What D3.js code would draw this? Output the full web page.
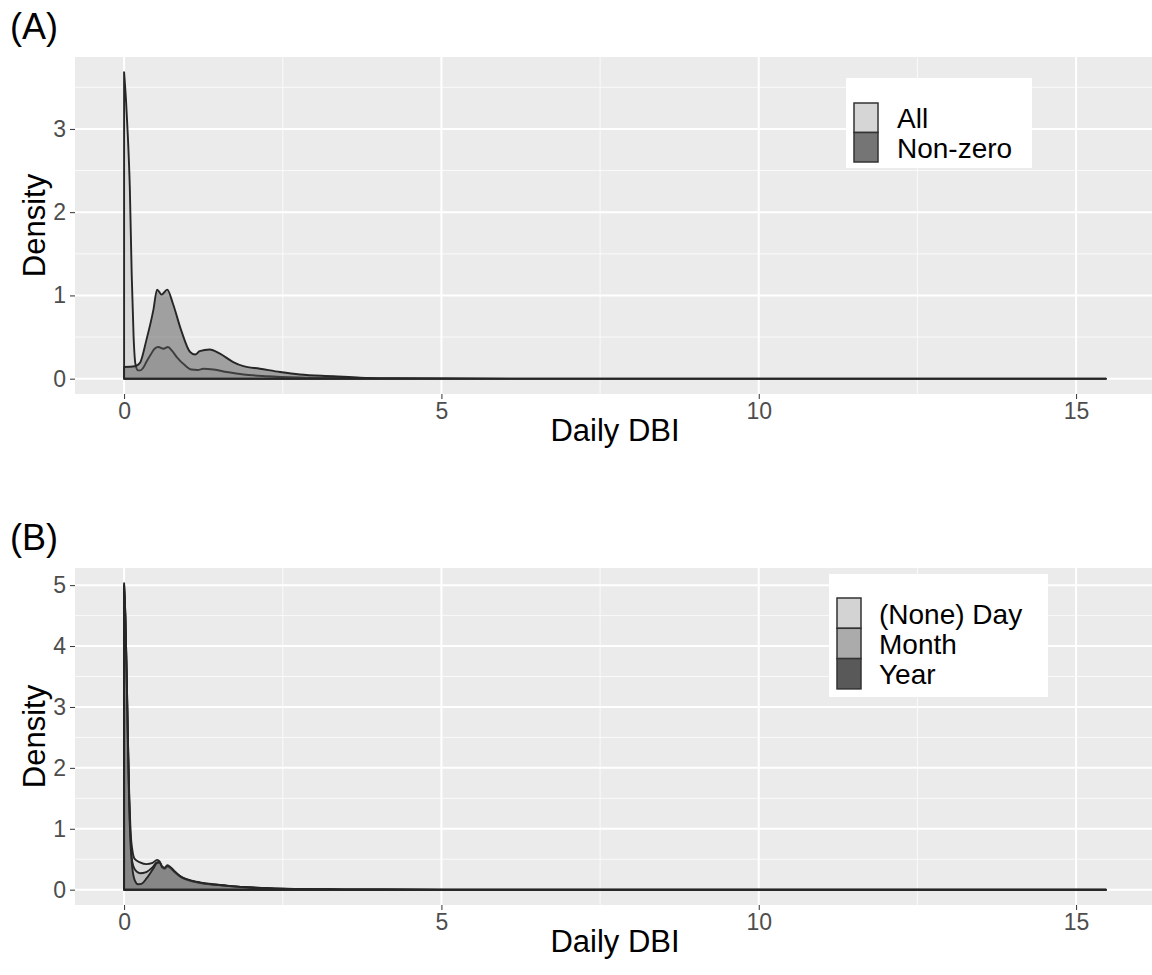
<!DOCTYPE html>
<html>
<head>
<meta charset="utf-8">
<script src="https://d3js.org/d3.v7.min.js"></script>
<style>
  body { margin: 0; background: #fff; }
  svg { font-family: "Liberation Sans", Arial, sans-serif; }
</style>
</head>
<body>
<div id="chart"></div>
<script>
// panel A: all days vs non-zero days
const allX = [0, 0.03, 0.06, 0.09, 0.12, 0.15, 0.18, 0.22, 0.26, 0.3, 0.35, 0.42, 0.48, 0.54, 0.62, 0.69, 0.76, 0.83, 0.96, 1.06, 1.16, 1.25, 1.41, 1.62, 1.88, 2.25, 2.77, 3.3, 4, 5, 7, 10, 15.47];
const allY = [3.68, 3.35, 2.9, 2.3, 1.25, 0.5, 0.17, 0.1, 0.1, 0.13, 0.2, 0.29, 0.36, 0.38, 0.36, 0.38, 0.33, 0.26, 0.16, 0.11, 0.105, 0.12, 0.11, 0.08, 0.05, 0.03, 0.015, 0.008, 0.004, 0.0015, 0.0005, 0.0002, 0];
const nonzeroX = [0, 0.17, 0.25, 0.35, 0.46, 0.52, 0.59, 0.68, 0.77, 0.9, 1.04, 1.12, 1.19, 1.35, 1.51, 1.72, 1.88, 2.14, 2.46, 2.77, 3.3, 3.72, 4.3, 5, 7, 10, 15.47];
const nonzeroY = [0.14, 0.15, 0.19, 0.46, 0.82, 1.07, 1.01, 1.07, 0.9, 0.58, 0.32, 0.29, 0.33, 0.35, 0.3, 0.2, 0.15, 0.12, 0.08, 0.05, 0.03, 0.012, 0.005, 0.002, 0.0005, 0.0002, 0];

// panel B: by recall period
const dayX = [0, 0.02, 0.04, 0.06, 0.08, 0.1, 0.13, 0.17, 0.25, 0.35, 0.45, 0.52, 0.56, 0.6, 0.64, 0.68, 0.72, 0.8, 0.9, 1.0, 1.2, 1.44, 1.7, 2.0, 2.3, 2.7, 3.2, 4, 5, 7, 10, 15.47];
const dayY = [5.03, 4.5, 3.6, 2.5, 1.6, 1.0, 0.65, 0.5, 0.45, 0.42, 0.44, 0.49, 0.46, 0.36, 0.34, 0.38, 0.36, 0.28, 0.2, 0.16, 0.11, 0.08, 0.055, 0.035, 0.022, 0.012, 0.006, 0.003, 0.001, 0.0004, 0.0001, 0];
const monthX = [0, 0.02, 0.04, 0.06, 0.08, 0.1, 0.13, 0.17, 0.25, 0.35, 0.45, 0.52, 0.56, 0.6, 0.64, 0.68, 0.72, 0.8, 0.9, 1.0, 1.2, 1.44, 1.7, 2.0, 2.3, 2.7, 3.2, 4, 5, 7, 10, 15.47];
const monthY = [5.0, 4.5, 3.6, 2.5, 1.5, 0.9, 0.45, 0.33, 0.27, 0.29, 0.37, 0.45, 0.45, 0.37, 0.35, 0.39, 0.37, 0.29, 0.21, 0.16, 0.11, 0.08, 0.055, 0.035, 0.022, 0.012, 0.006, 0.003, 0.001, 0.0004, 0.0001, 0];
const yearX = [0, 0.02, 0.04, 0.06, 0.08, 0.1, 0.13, 0.17, 0.22, 0.28, 0.35, 0.45, 0.52, 0.56, 0.6, 0.64, 0.68, 0.72, 0.8, 0.9, 1.0, 1.2, 1.44, 1.7, 2.0, 2.3, 2.7, 3.2, 4, 5, 7, 10, 15.47];
const yearY = [4.98, 4.45, 3.5, 2.4, 1.4, 0.8, 0.35, 0.15, 0.09, 0.1, 0.18, 0.33, 0.44, 0.45, 0.38, 0.36, 0.4, 0.38, 0.3, 0.21, 0.17, 0.12, 0.085, 0.058, 0.037, 0.023, 0.013, 0.007, 0.003, 0.001, 0.0004, 0.0001, 0];

const xTicks = [0, 5, 10, 15];
const yTicksA = [0, 1, 2, 3];
const yTicksB = [0, 1, 2, 3, 4, 5];

const W = 1152, H = 975;
const left = 75, right = 1155;

const svg = d3.select("#chart").append("svg")
  .attr("width", W).attr("height", H);

function zip(xs, ys) { return xs.map((v, i) => [v, ys[i]]); }

function panel(opt) {
  const x = d3.scaleLinear().domain([-0.7735, 16.2435]).range([left, right]);
  const y = d3.scaleLinear().domain(opt.yDomain).range([opt.bottom, opt.top]);
  const g = svg.append("g");

  g.append("rect")
    .attr("x", left).attr("y", opt.top)
    .attr("width", right - left).attr("height", opt.bottom - opt.top)
    .attr("fill", "#ebebeb");

  // minor grid
  const minorX = [2.5, 7.5, 12.5];
  const minorY = opt.yTicks.map(d => d + 0.5).filter(d => y(d) > opt.top);
  g.selectAll(".mx").data(minorX).enter().append("line")
    .attr("x1", d => x(d)).attr("x2", d => x(d))
    .attr("y1", opt.top).attr("y2", opt.bottom)
    .attr("stroke", "#fafafa").attr("stroke-width", 1);
  g.selectAll(".my").data(minorY).enter().append("line")
    .attr("x1", left).attr("x2", right)
    .attr("y1", d => y(d)).attr("y2", d => y(d))
    .attr("stroke", "#fafafa").attr("stroke-width", 1);
  // major grid
  g.selectAll(".gx").data(xTicks).enter().append("line")
    .attr("x1", d => x(d)).attr("x2", d => x(d))
    .attr("y1", opt.top).attr("y2", opt.bottom)
    .attr("stroke", "#fff").attr("stroke-width", 2);
  g.selectAll(".gy").data(opt.yTicks).enter().append("line")
    .attr("x1", left).attr("x2", right)
    .attr("y1", d => y(d)).attr("y2", d => y(d))
    .attr("stroke", "#fff").attr("stroke-width", 2);

  // densities, drawn as closed polygons like geom_density
  const area = d3.area()
    .x(d => x(d[0])).y0(y(0)).y1(d => y(d[1]))
    .curve(d3.curveMonotoneX);
  opt.series.forEach(s => {
    g.append("path")
      .attr("d", area(zip(s.x, s.y)) + "Z")
      .attr("fill", s.fill).attr("fill-opacity", 0.5)
      .attr("stroke", "#262626").attr("stroke-width", 1.9)
      .attr("stroke-linejoin", "round");
  });

  // axes
  const ax = g.append("g").attr("transform", `translate(0,${opt.bottom})`)
    .call(d3.axisBottom(x).tickValues(xTicks).tickFormat(d3.format("d")).tickSize(5).tickPadding(4));
  const ay = g.append("g").attr("transform", `translate(${left},0)`)
    .call(d3.axisLeft(y).tickValues(opt.yTicks).tickFormat(d3.format("d")).tickSize(5).tickPadding(4));
  [ax, ay].forEach(a => {
    a.select(".domain").remove();
    a.selectAll("line").attr("stroke", "#333").attr("stroke-width", 1);
    a.selectAll("text").attr("fill", "#4d4d4d").style("font-size", "23px");
  });

  g.append("text")
    .attr("x", (left + right) / 2).attr("y", opt.bottom + 47)
    .attr("text-anchor", "middle").style("font-size", "31px")
    .text("Daily DBI");
  g.append("text")
    .attr("transform", `translate(45,${(opt.top + opt.bottom) / 2}) rotate(-90)`)
    .attr("text-anchor", "middle").style("font-size", "31px")
    .text("Density");
  g.append("text")
    .attr("x", 10).attr("y", opt.top - 18)
    .style("font-size", "36px")
    .text(opt.label);

  // legend
  const L = opt.legend;
  g.append("rect")
    .attr("x", L.x).attr("y", L.y).attr("width", L.w).attr("height", L.h)
    .attr("fill", "#fff");
  L.items.forEach((it, i) => {
    const ky = L.keyY + i * L.keyH;
    g.append("rect")
      .attr("x", L.keyX).attr("y", ky).attr("width", 24).attr("height", L.keyH)
      .attr("fill", it.color).attr("stroke", "#333").attr("stroke-width", 1.5);
    g.append("text")
      .attr("x", L.textX).attr("y", ky + L.keyH / 2 + 10.5)
      .style("font-size", "28px")
      .text(it.name);
  });
}

panel({
  label: "(A)", top: 57, bottom: 394, yDomain: [-0.184, 3.864], yTicks: yTicksA,
  series: [
    { x: allX, y: allY, fill: "#c8c8c8" },
    { x: nonzeroX, y: nonzeroY, fill: "#555555" }
  ],
  legend: { x: 846, y: 78, w: 186, h: 90, keyX: 854, keyY: 103, keyH: 29.5, textX: 897,
    items: [{ name: "All", color: "#d6d6d6" }, { name: "Non-zero", color: "#757575" }] }
});

panel({
  label: "(B)", top: 568, bottom: 905, yDomain: [-0.2515, 5.2815], yTicks: yTicksB,
  series: [
    { x: dayX, y: dayY, fill: "#d0d0d0" },
    { x: monthX, y: monthY, fill: "#a0a0a0" },
    { x: yearX, y: yearY, fill: "#505050" }
  ],
  legend: { x: 829, y: 574, w: 219, h: 123, keyX: 837, keyY: 598, keyH: 30.3, textX: 879,
    items: [{ name: "(None) Day", color: "#d3d3d3" }, { name: "Month", color: "#ababab" }, { name: "Year", color: "#595959" }] }
});
</script>
</body>
</html>
